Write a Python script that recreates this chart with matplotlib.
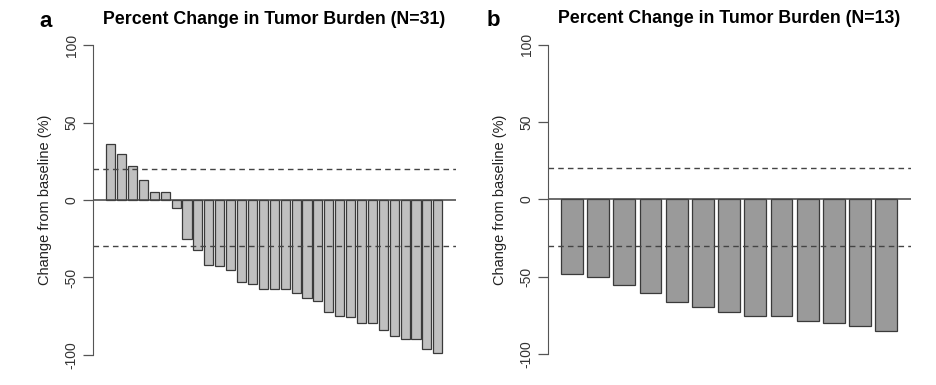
import numpy as np
import matplotlib.pyplot as plt

plt.rcParams['font.family'] = ['Liberation Sans', 'DejaVu Sans']

# percent change from baseline
change_a = [36, 30, 22, 12.7, 5, 5, -5.4, -25, -32, -42, -42.7, -45, -53, -54,
            -57.5, -57.5, -57.5, -60.3, -63, -65, -72.6, -75, -75.6, -79.7,
            -79.7, -83.8, -88, -90, -90, -96, -98.7]
change_b = [-48.2, -50, -55, -60.2, -66.5, -69.8, -72.8, -75.2, -75.2, -78.4,
            -80.1, -81.9, -85.3]

titles = ["Percent Change in Tumor Burden (N=31)",
          "Percent Change in Tumor Burden (N=13)"]
panel_tags = ["a", "b"]
ylab = "Change from baseline (%)"
thresholds = [20, -30]
yticks = [-100, -50, 0, 50, 100]

fig = plt.figure(figsize=(9.36, 3.85), dpi=100)

def waterfall(rect, vals, fill, title, tag, tag_x):
    ax = fig.add_axes(rect)
    n = len(vals)
    # R barplot layout: width 1, space 0.2
    x = 0.7 + 1.2 * np.arange(n)
    ax.bar(x, vals, width=1.0, color=fill, edgecolor="#3a3a3a", linewidth=0.9)
    span = 1.2 * n - 0.2
    ax.set_xlim(0.2 - 0.04 * span, 1.2 * n + 0.04 * span)
    ax.set_ylim(-108, 108)
    ax.axhline(0, color="#444444", lw=1.1)
    for t in thresholds:
        ax.axhline(t, color="#444444", lw=1.0, ls=(0, (4, 3)))
    for s in ["top", "right", "bottom"]:
        ax.spines[s].set_visible(False)
    ax.spines["left"].set_bounds(-100, 100)
    ax.spines["left"].set_color("#555555")
    ax.set_xticks([])
    ax.set_yticks(yticks)
    ax.set_yticklabels([str(v) for v in yticks], rotation=90, va="center")
    ax.tick_params(axis="y", length=7, width=0.9, color="#555555",
                   labelsize=10, labelcolor="#333333", pad=3)
    ax.set_ylabel(ylab, fontsize=10.5, color="#222222", labelpad=9)
    ax.text(0.5, 1.04, title, transform=ax.transAxes, fontsize=12.8,
            fontweight="bold", ha="center", va="center")
    ax.text(tag_x, 1.035, tag, transform=ax.transAxes, fontsize=16,
            fontweight="bold", ha="center", va="center")
    return ax

waterfall([0.099, 0.046, 0.388, 0.869], change_a, "#c0c0c0", titles[0], panel_tags[0], -0.13)
waterfall([0.585, 0.048, 0.388, 0.868], change_b, "#9a9a9a", titles[1], panel_tags[1], -0.15)

fig.savefig("out.png", dpi=100, facecolor="white")
